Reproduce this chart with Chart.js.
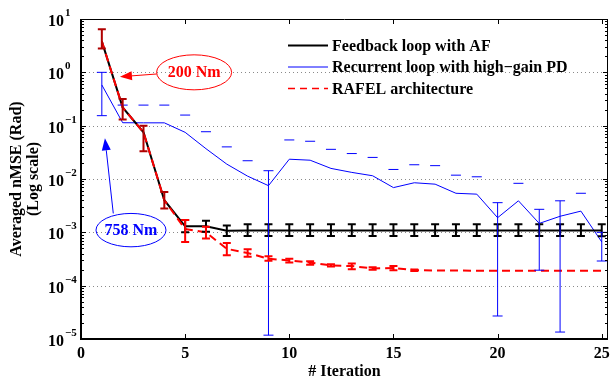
<!DOCTYPE html>
<html><head><meta charset="utf-8">
<script src="https://cdn.jsdelivr.net/npm/chart.js@4/dist/chart.umd.min.js"></script>
<style>html,body{margin:0;padding:0;background:#fff}canvas{display:block}</style>
</head><body>
<canvas id="c" width="610" height="380"></canvas>
<script>
// ---------- data ----------
const iterations = [1,2,3,4,5,6,7,8,9,10,11,12,13,14,15,16,17,18,19,20,21,22,23,24,25];

// Feedback loop with AF (black)
const afMean = [3.8,0.22,0.075,0.004,0.0013,0.0013,0.00107,0.00108,0.00108,0.00108,0.00108,0.00108,0.00108,0.00108,0.00108,0.00108,0.00108,0.00108,0.00108,0.00108,0.00108,0.00108,0.00108,0.00108,0.00108];
const afLow  = [null,null,null,null,0.00100,0.00103,0.00085,0.00085,0.00085,0.00085,0.00085,0.00085,0.00085,0.00085,0.00085,0.00085,0.00085,0.00085,0.00085,0.00085,0.00085,0.00085,0.00085,0.00085,0.00084];
const afHigh = [null,null,null,null,0.0017,0.00165,0.00135,0.00141,0.00141,0.00141,0.00141,0.00141,0.00141,0.00141,0.00141,0.00141,0.00141,0.00141,0.00141,0.00141,0.00141,0.00141,0.00141,0.00141,0.00141];

// Recurrent loop with high-gain PD (blue)
const pdMean = [0.58,0.1135,0.113,0.113,0.075,0.037,0.019,0.0113,0.0075,0.0235,0.0225,0.0158,0.0133,0.0115,0.0069,0.0085,0.0080,0.0054,0.0052,0.00188,0.0039,0.00147,0.0020,0.0025,0.00066];
const pdLow  = [0.154,null,null,null,null,null,null,null,1.18e-5,null,null,null,null,null,null,null,null,null,null,2.7e-5,null,0.000195,1.35e-5,null,0.00029];
const pdHigh = [1.0,0.243,0.243,0.243,0.158,0.077,0.040,0.022,0.0143,0.054,0.051,0.036,0.030,0.0254,0.0151,0.0185,0.0178,0.0118,0.011,0.0036,0.0083,0.0027,0.0039,0.0054,0.001];

// RAFEL architecture (red)
const rafelMean = [3.8,0.22,0.075,0.004,0.00115,0.001,0.00049,0.00041,0.00032,0.000297,0.00027,0.00024,0.000233,0.00021,0.000215,0.000195,0.000193,0.000192,0.000191,0.00019,0.00019,0.00019,0.00019,0.00019,0.00019];
const rafelLow  = [2.8,0.131,0.033,0.0028,0.00066,0.00077,0.000373,0.000347,0.000292,0.000272,0.000246,0.000228,0.000204,0.000198,0.000195,0.000188,null,null,null,null,null,null,null,null,null];
const rafelHigh = [6.4,0.316,0.1,0.0057,0.0017,0.00127,0.00063,0.000484,0.000357,0.000318,0.000288,0.000252,0.000261,0.000222,0.000235,0.000202,null,null,null,null,null,null,null,null,null];

const xTickValues = [0,5,10,15,20,25];
const yExponents = [1,0,-1,-2,-3,-4,-5];
const seriesNames = ['Feedback loop with AF','Recurrent loop with high\u2212gain PD','RAFEL architecture'];
const yTitleLines = ['Averaged nMSE (Rad)','(Log scale)'];
const xTitle = '# Iteration';
const noteTexts = ['200 Nm','758 Nm'];

// ---------- styling / layout ----------
const SERIF = '"Liberation Serif","Times New Roman",serif';
const X_MIN = 0, X_MAX = 25.3, Y_MIN = 1e-5, Y_MAX = 10;
const COL = {af:'#000000', pd:'#0000ff', rafel:'#ff0000', rafelDark:'#b00000'};

const toPts = (ys) => iterations.map((x,i) => ({x, y: ys[i]}));

const notes = [
  {text: noteTexts[0], color: COL.rafel, cx: 5.43, cy: 1.0, rx: 37.5, ry: 17.5, tailX: 3.63, tailY: 0.93, tipX: 1.87, tipY: 0.827},
  {text: noteTexts[1], color: COL.pd, cx: 2.40, cy: 0.0011, rx: 35, ry: 16.7, tailX: 1.55, tailY: 0.00226, tipX: 1.15, tipY: 0.0578}
];

function drawBars(ctx, xs, ys, lows, highs, colors, lw, capW) {
  iterations.forEach((xv, i) => {
    const hi = highs[i];
    if (hi == null) return;
    const lo = lows[i];
    const px = xs.getPixelForValue(xv);
    ctx.strokeStyle = Array.isArray(colors) ? colors[i] : colors;
    ctx.lineWidth = lw;
    const ph = ys.getPixelForValue(hi);
    ctx.beginPath();
    ctx.moveTo(px - capW / 2, ph); ctx.lineTo(px + capW / 2, ph);
    if (lo != null) {
      const pl = ys.getPixelForValue(lo);
      ctx.moveTo(px, ph); ctx.lineTo(px, pl);
      ctx.moveTo(px - capW / 2, pl); ctx.lineTo(px + capW / 2, pl);
    }
    ctx.stroke();
  });
}

const rafelBarColors = iterations.map(x => x <= 4 ? COL.rafelDark : COL.rafel);

const decor = {
  id: 'decor',
  beforeDatasetsDraw(chart) {
    const {ctx, chartArea: a, scales: {y}} = chart;
    ctx.save();
    ctx.strokeStyle = '#8a8a8a'; ctx.lineWidth = 1; ctx.setLineDash([1, 3]);
    yExponents.forEach(e => {
      const v = Math.pow(10, e);
      if (v <= Y_MIN || v >= Y_MAX) return;
      const py = Math.round(y.getPixelForValue(v)) + 0.5;
      ctx.beginPath(); ctx.moveTo(a.left, py); ctx.lineTo(a.right, py); ctx.stroke();
    });
    ctx.restore();
  },
  afterDatasetsDraw(chart) {
    const {ctx, scales: {x, y}} = chart;
    ctx.save();
    ctx.lineCap = 'butt';
    drawBars(ctx, x, y, afLow, afHigh, COL.af, 2, 8);
    drawBars(ctx, x, y, pdLow, pdHigh, COL.pd, 1, 10);
    drawBars(ctx, x, y, rafelLow, rafelHigh, rafelBarColors, 2, 8);
    ctx.restore();
  },
  afterDraw(chart) {
    const {ctx, chartArea: a, scales: {x, y}} = chart;
    ctx.save();
    // frame
    ctx.strokeStyle = '#000';
    ctx.lineWidth = 1;
    ctx.beginPath();
    ctx.moveTo(a.left, a.top + 0.5); ctx.lineTo(a.right, a.top + 0.5);
    ctx.moveTo(a.right - 0.5, a.top); ctx.lineTo(a.right - 0.5, a.bottom);
    ctx.stroke();
    ctx.lineWidth = 2;
    ctx.beginPath();
    ctx.moveTo(a.left, a.bottom); ctx.lineTo(a.right, a.bottom);
    ctx.moveTo(a.left, a.top); ctx.lineTo(a.left, a.bottom + 1);
    ctx.stroke();
    // x ticks
    ctx.lineWidth = 1;
    ctx.beginPath();
    xTickValues.forEach(v => {
      const px = Math.round(x.getPixelForValue(v)) + 0.5;
      ctx.moveTo(px, a.bottom); ctx.lineTo(px, a.bottom - 5);
      ctx.moveTo(px, a.top); ctx.lineTo(px, a.top + 5);
    });
    // y ticks major + minor
    yExponents.forEach(e => {
      for (let m = 1; m <= 9; m++) {
        const v = m * Math.pow(10, e);
        if (v < Y_MIN || v > Y_MAX) continue;
        const py = Math.round(y.getPixelForValue(v)) + 0.5;
        const len = m === 1 ? 5 : 3;
        ctx.moveTo(a.left, py); ctx.lineTo(a.left + len, py);
        ctx.moveTo(a.right, py); ctx.lineTo(a.right - len, py);
      }
    });
    ctx.stroke();
    // x tick labels
    ctx.fillStyle = '#000';
    ctx.font = 'bold 16px ' + SERIF;
    ctx.textAlign = 'center'; ctx.textBaseline = 'alphabetic';
    xTickValues.forEach(v => ctx.fillText(String(v), x.getPixelForValue(v), a.bottom + 19));
    // y tick labels 10^e
    yExponents.forEach(e => {
      const py = y.getPixelForValue(Math.pow(10, e));
      ctx.textAlign = 'left';
      ctx.font = 'bold 16px ' + SERIF;
      ctx.fillText('10', 48, py + 7);
      const w = ctx.measureText('10').width;
      ctx.font = 'bold 11px ' + SERIF;
      ctx.fillText(e < 0 ? '\u2212' + (-e) : String(e), 48 + w + 1, py - 3);
    });
    // axis titles
    ctx.font = 'bold 16px ' + SERIF;
    ctx.textAlign = 'center';
    ctx.fillText(xTitle, (a.left + a.right) / 2, 376);
    const cy = (a.top + a.bottom) / 2;
    ctx.save();
    ctx.translate(0, cy); ctx.rotate(-Math.PI / 2);
    ctx.textBaseline = 'middle';
    ctx.fillText(yTitleLines[0], 0, 16.5);
    ctx.fillText(yTitleLines[1], 0, 34);
    ctx.restore();
    // legend
    const legendStyles = [
      {color: COL.af, width: 2, dash: []},
      {color: COL.pd, width: 1, dash: []},
      {color: COL.rafel, width: 1.5, dash: [7, 5]}
    ];
    const lx0 = a.left + 207, lx1 = a.left + 247, ltx = a.left + 251;
    seriesNames.forEach((name, i) => {
      const ly = a.top + 26.5 + i * 21.5;
      const s = legendStyles[i];
      ctx.strokeStyle = s.color; ctx.lineWidth = s.width; ctx.setLineDash(s.dash);
      ctx.beginPath(); ctx.moveTo(lx0, ly); ctx.lineTo(lx1, ly); ctx.stroke();
      ctx.setLineDash([]);
      ctx.fillStyle = '#000';
      ctx.font = 'bold 16px ' + SERIF;
      ctx.textAlign = 'left'; ctx.textBaseline = 'middle';
      ctx.fillText(name, ltx, ly + 1);
    });
    // annotations
    notes.forEach(n => {
      const cx = x.getPixelForValue(n.cx), cyp = y.getPixelForValue(n.cy);
      ctx.strokeStyle = n.color; ctx.fillStyle = n.color; ctx.lineWidth = 1;
      ctx.beginPath(); ctx.ellipse(cx, cyp, n.rx, n.ry, 0, 0, Math.PI * 2); ctx.stroke();
      ctx.font = 'bold 16px ' + SERIF;
      ctx.textAlign = 'center'; ctx.textBaseline = 'middle';
      ctx.fillText(n.text, cx, cyp + 1);
      const tx = x.getPixelForValue(n.tailX), ty = y.getPixelForValue(n.tailY);
      const hx = x.getPixelForValue(n.tipX), hy = y.getPixelForValue(n.tipY);
      const ang = Math.atan2(hy - ty, hx - tx);
      const L = 12, W = 4.5;
      const bx = hx - L * Math.cos(ang), by = hy - L * Math.sin(ang);
      ctx.beginPath(); ctx.moveTo(tx, ty); ctx.lineTo(bx, by); ctx.stroke();
      ctx.beginPath();
      ctx.moveTo(hx, hy);
      ctx.lineTo(bx + W * Math.sin(ang), by - W * Math.cos(ang));
      ctx.lineTo(bx - W * Math.sin(ang), by + W * Math.cos(ang));
      ctx.closePath(); ctx.fill();
    });
    ctx.restore();
  }
};

new Chart(document.getElementById('c'), {
  type: 'line',
  data: {
    datasets: [
      {label: seriesNames[2], data: toPts(rafelMean), borderColor: COL.rafel, borderWidth: 2, borderDash: [8, 5], pointRadius: 0, fill: false, tension: 0, order: 0},
      {label: seriesNames[0], data: toPts(afMean), borderColor: COL.af, borderWidth: 2, pointRadius: 0, fill: false, tension: 0, order: 1},
      {label: seriesNames[1], data: toPts(pdMean), borderColor: COL.pd, borderWidth: 1, pointRadius: 0, fill: false, tension: 0, order: 2}
    ]
  },
  options: {
    responsive: false,
    devicePixelRatio: 1,
    animation: false,
    layout: {padding: {left: 81, top: 19, right: 2, bottom: 41}},
    plugins: {legend: {display: false}, tooltip: {enabled: false}},
    scales: {
      x: {type: 'linear', min: X_MIN, max: X_MAX, display: false},
      y: {type: 'logarithmic', min: Y_MIN, max: Y_MAX, display: false}
    }
  },
  plugins: [decor]
});
</script>
</body></html>
